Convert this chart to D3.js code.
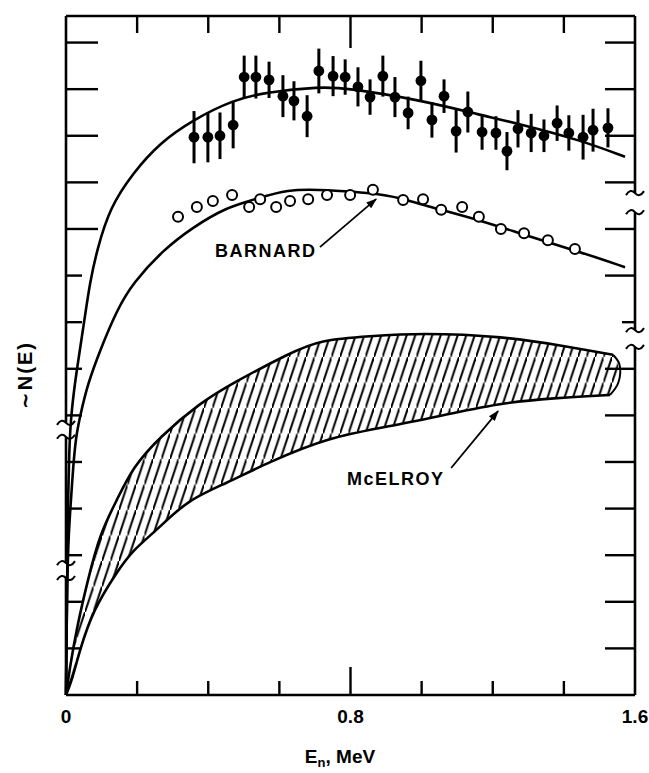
<!DOCTYPE html>
<html><head><meta charset="utf-8">
<script src="https://cdn.jsdelivr.net/npm/d3@7"></script>
<style>
html,body{margin:0;padding:0;background:#fff;}
text{font-family:"Liberation Sans","DejaVu Sans",sans-serif;font-weight:bold;fill:#000;}
</style></head>
<body>
<svg id="chart" width="649" height="773"></svg>
<script>
// ---- data ----
const filledE = [0.360,0.399,0.433,0.470,0.501,0.534,0.571,0.610,0.641,0.678,0.711,0.751,0.785,0.821,0.855,0.891,0.925,0.962,0.998,1.029,1.063,1.097,1.130,1.170,1.209,1.240,1.271,1.308,1.344,1.381,1.414,1.454,1.482,1.524];
const filledN = [11.97,11.97,12.00,12.23,13.26,13.26,13.20,12.85,12.75,12.42,13.39,13.28,13.26,13.05,12.83,13.28,12.83,12.49,13.18,12.34,12.85,12.10,12.51,12.08,12.06,11.67,12.15,12.06,12.00,12.27,12.06,11.97,12.12,12.17];
const filledErr = [0.56,0.54,0.50,0.50,0.46,0.46,0.39,0.45,0.42,0.45,0.48,0.43,0.38,0.42,0.38,0.44,0.43,0.35,0.43,0.38,0.36,0.46,0.44,0.38,0.36,0.41,0.40,0.41,0.35,0.38,0.38,0.48,0.46,0.42];

const barnardE = [0.315,0.368,0.413,0.467,0.515,0.546,0.591,0.630,0.681,0.734,0.799,0.863,0.948,1.004,1.055,1.114,1.161,1.223,1.288,1.355,1.431];
const barnardN = [10.26,10.47,10.60,10.73,10.47,10.64,10.47,10.60,10.64,10.73,10.73,10.84,10.62,10.64,10.41,10.47,10.26,10.00,9.91,9.76,9.57];

const curveAE = [0,0.002,0.004,0.006,0.009,0.013,0.025,0.039,0.053,0.067,0.087,0.124,0.188,0.264,0.357,0.470,0.565,0.714,0.785,0.995,1.164,1.277,1.445,1.572];
const curveAN = [0,1.50,3.00,4.30,5.20,5.90,6.70,7.40,8.11,8.84,9.55,10.47,11.20,11.85,12.34,12.77,12.94,13.05,13.03,12.77,12.45,12.25,11.91,11.55];

const curveBE = [0,0.003,0.008,0.014,0.020,0.028,0.039,0.062,0.096,0.143,0.188,0.273,0.357,0.453,0.526,0.621,0.734,0.863,0.939,1.024,1.164,1.305,1.445,1.572];
const curveBN = [0,2.47,3.54,4.18,4.89,5.54,5.97,6.70,7.40,8.26,8.84,9.55,10.04,10.47,10.62,10.86,10.84,10.77,10.67,10.47,10.19,9.83,9.51,9.18];

const mcUpperE = [0,0.011,0.031,0.059,0.096,0.143,0.188,0.264,0.377,0.470,0.630,0.714,0.855,0.995,1.229,1.417,1.538];
const mcUpperN = [0,0.60,1.46,2.40,3.48,4.18,4.89,5.54,6.27,6.70,7.34,7.62,7.70,7.77,7.70,7.47,7.30];
const mcLowerE = [0,0.017,0.039,0.076,0.143,0.188,0.256,0.340,0.453,0.565,0.742,0.903,1.088,1.229,1.369,1.530];
const mcLowerN = [0,0.32,0.97,1.82,2.64,3.11,3.54,4.18,4.55,4.98,5.54,5.75,6.05,6.27,6.37,6.44];
const mcEdgeE = [1.538,1.556,1.553,1.530];
const mcEdgeN = [7.30,7.10,6.70,6.44];

const xTicks = [0,0.2,0.4,0.6,0.8,1.0,1.2,1.4,1.6];
const xTickLabels = ["0","","","","0.8","","","","1.6"];
const yTicks = [0,1,2,3,4,5,6,7,8,9,10,11,12,13,14];
const leftBreaks = [[2.51,2.83],[5.54,5.84]];
const rightBreaks = [[7.47,7.83],[10.36,10.77]];

const labels = [
  {text:"BARNARD", e:0.419, n:9.40, ae0:0.714, an0:9.61, ae1:0.872, an1:10.64},
  {text:"McELROY", e:0.790, n:4.51, ae0:1.083, an0:4.87, ae1:1.215, an1:6.09}
];

// ---- scales ----
const svg = d3.select("#chart");
const x = d3.scaleLinear().domain([0,1.6]).range([66,635]);
const y = d3.scaleLinear().domain([0,14.57]).range([695,16]);

const defs = svg.append("defs");
const pat = defs.append("pattern").attr("id","hatch").attr("patternUnits","userSpaceOnUse")
  .attr("width",8.5).attr("height",25.5);
pat.append("path").attr("d","M-1,28.5 L9.5,-3").attr("stroke","#000").attr("stroke-width",2);
defs.append("marker").attr("id","arrow").attr("viewBox","0 0 10 10").attr("refX",9).attr("refY",5)
  .attr("markerWidth",9).attr("markerHeight",6).attr("orient","auto")
  .append("path").attr("d","M0,1.5 L10,5 L0,8.5 Z").attr("fill","#000");

const lineGen = d3.line().x(d=>x(d[0])).y(d=>y(d[1])).curve(d3.curveBasis);
const pairs = (E,N)=>E.map((e,i)=>[e,N[i]]);

// ---- McElroy band ----
const upper = pairs(mcUpperE,mcUpperN);
const lower = pairs(mcLowerE,mcLowerN);
const edge = pairs(mcEdgeE,mcEdgeN);
const bandD = lineGen(upper) + lineGen(edge).replace(/^M/,"L") + lineGen(lower.slice().reverse()).replace(/^M/,"L") + "Z";
svg.append("path").attr("d",bandD).attr("fill","url(#hatch)").attr("stroke","none");
svg.append("path").attr("d",lineGen(upper)).attr("fill","none").attr("stroke","#000").attr("stroke-width",2.6);
svg.append("path").attr("d",lineGen(lower)).attr("fill","none").attr("stroke","#000").attr("stroke-width",2.6);
svg.append("path").attr("d",d3.line().x(d=>x(d[0])).y(d=>y(d[1])).curve(d3.curveCatmullRom)(edge))
  .attr("fill","none").attr("stroke","#000").attr("stroke-width",2);

// ---- curves ----
svg.append("path").attr("d",lineGen(pairs(curveAE,curveAN)))
  .attr("fill","none").attr("stroke","#000").attr("stroke-width",2.6);
svg.append("path").attr("d",lineGen(pairs(curveBE,curveBN)))
  .attr("fill","none").attr("stroke","#000").attr("stroke-width",2.6);

// ---- filled points with error bars ----
const fp = svg.append("g");
filledE.forEach((e,i)=>{
  fp.append("line").attr("x1",x(e)).attr("x2",x(e))
    .attr("y1",y(filledN[i]-filledErr[i])).attr("y2",y(filledN[i]+filledErr[i]))
    .attr("stroke","#000").attr("stroke-width",3);
  fp.append("circle").attr("cx",x(e)).attr("cy",y(filledN[i])).attr("r",5.4).attr("fill","#000");
});

// ---- Barnard open circles ----
svg.append("g").selectAll("circle").data(barnardE).join("circle")
  .attr("cx",d=>x(d)).attr("cy",(d,i)=>y(barnardN[i])).attr("r",5)
  .attr("fill","#fff").attr("stroke","#000").attr("stroke-width",2);

// ---- frame / axes ----
const ax = svg.append("g").attr("stroke","#000").attr("stroke-width",2.6).attr("fill","none");
ax.append("line").attr("x1",x(0)).attr("x2",x(1.6)).attr("y1",y(0)).attr("y2",y(0));
ax.append("line").attr("x1",x(0)).attr("x2",x(1.6)).attr("y1",y(14.57)).attr("y2",y(14.57));
function vAxis(e, breaks){
  let segs=[], start=0;
  breaks.forEach(b=>{segs.push([start,b[0]]); start=b[1];});
  segs.push([start,14.57]);
  segs.forEach(s=>ax.append("line").attr("x1",x(e)).attr("x2",x(e)).attr("y1",y(s[0])).attr("y2",y(s[1])));
  breaks.forEach(b=>b.forEach(v=>{
    const cx=x(e), cy=y(v);
    ax.append("path").attr("d",`M${cx-9},${cy+2} q4.5,-7 9,-2 t9,-2`).attr("stroke-width",2);
  }));
}
vAxis(0,leftBreaks);
vAxis(1.6,rightBreaks);

xTicks.slice(1,-1).forEach(t=>{
  const L = t===0.8 ? 28 : 14;
  ax.append("line").attr("x1",x(t)).attr("x2",x(t)).attr("y1",y(0)).attr("y2",y(0)-L).attr("stroke-width",2.4);
  const T = t===0.8 ? 32 : 17;
  ax.append("line").attr("x1",x(t)).attr("x2",x(t)).attr("y1",y(14.57)).attr("y2",y(14.57)+T).attr("stroke-width",2.4);
});
yTicks.slice(1).forEach(t=>{
  const L = t>=10 ? 32 : 16;
  ax.append("line").attr("x1",x(0)).attr("x2",x(0)+L).attr("y1",y(t)).attr("y2",y(t)).attr("stroke-width",2.4);
  const R = t===8 ? 13 : 30;
  ax.append("line").attr("x1",x(1.6)).attr("x2",x(1.6)-R).attr("y1",y(t)).attr("y2",y(t)).attr("stroke-width",2.4);
});

svg.append("g").selectAll("text").data(xTicks).join("text")
  .attr("x",d=>x(d)).attr("y",723).attr("text-anchor","middle")
  .attr("font-size",19).text((d,i)=>xTickLabels[i]);

const xt = svg.append("text").attr("x",340).attr("y",763).attr("text-anchor","middle").attr("font-size",19);
xt.append("tspan").text("E");
xt.append("tspan").attr("font-size",13).attr("dy",4).text("n");
xt.append("tspan").attr("dy",-4).text(",  MeV");
svg.append("text").attr("transform","translate(32,375) rotate(-90)").attr("text-anchor","middle")
  .attr("font-size",20).attr("letter-spacing",2).text("∼N(E)");

labels.forEach(l=>{
  svg.append("text").attr("x",x(l.e)).attr("y",y(l.n)).attr("font-size",18).attr("letter-spacing",1.5).text(l.text);
  svg.append("line").attr("x1",x(l.ae0)).attr("y1",y(l.an0)).attr("x2",x(l.ae1)).attr("y2",y(l.an1))
    .attr("stroke","#000").attr("stroke-width",1.8).attr("marker-end","url(#arrow)");
});
</script>
</body></html>
